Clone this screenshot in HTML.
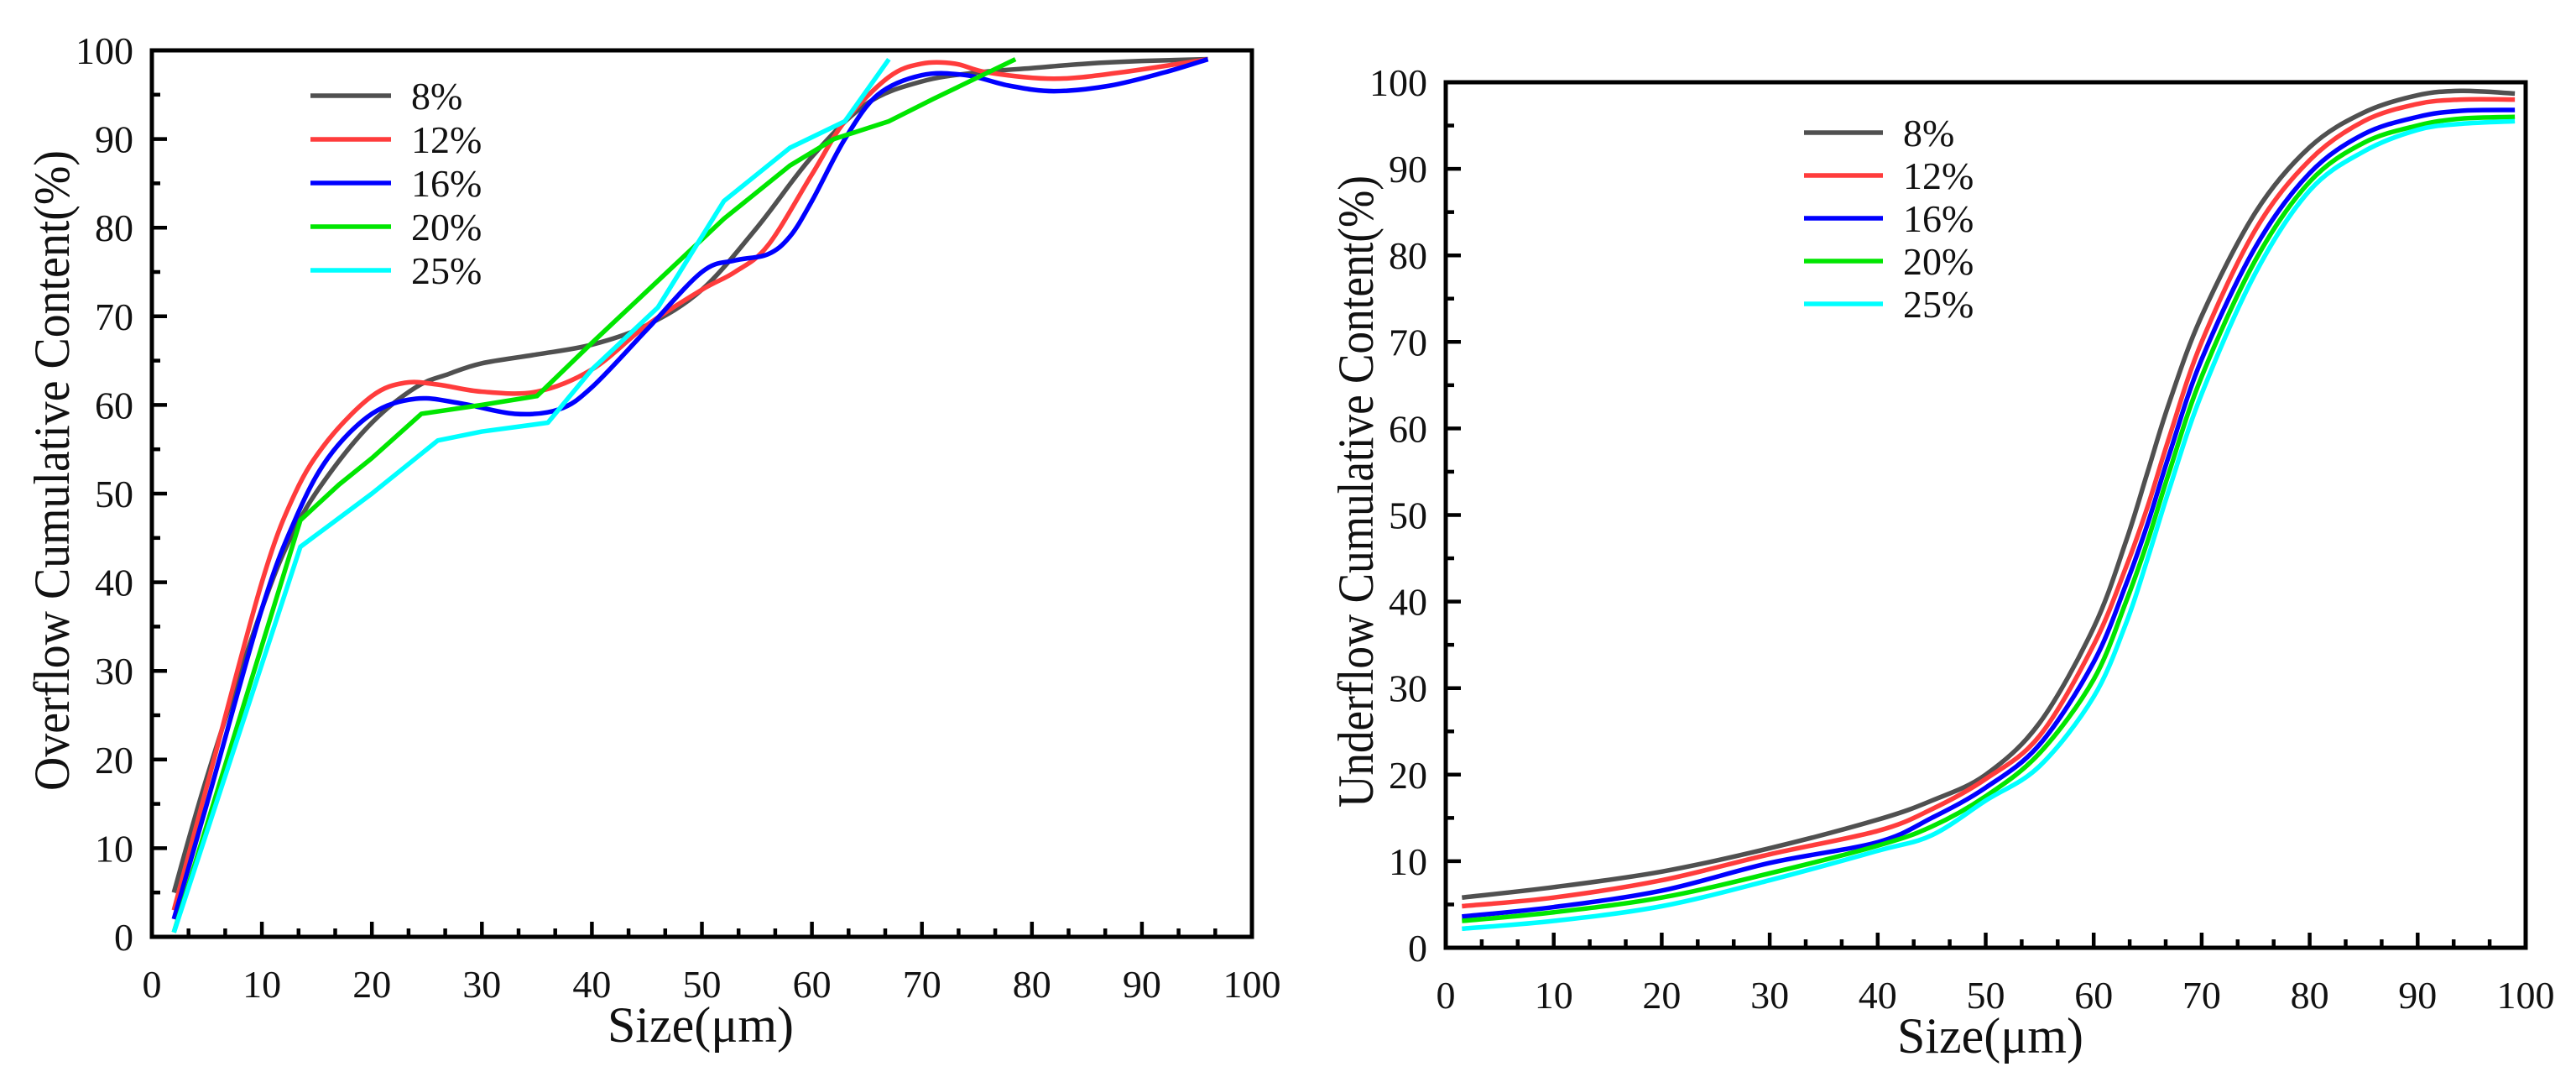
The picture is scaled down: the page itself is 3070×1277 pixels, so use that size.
<!DOCTYPE html>
<html><head><meta charset="utf-8"><style>
html,body{margin:0;padding:0;background:#fff;}
svg{display:block;font-family:"Liberation Serif",serif;}
</style></head><body>
<svg id="fig" width="3070" height="1277" viewBox="0 0 3070 1277" xmlns="http://www.w3.org/2000/svg">
<rect x="0" y="0" width="3070" height="1277" fill="#fff"/>
<g id="left"></g>
<g id="right"></g>
</svg>
<script>
// ---- data ----
const seriesNames = ["8%","12%","16%","20%","25%"];
const seriesColors = ["#505050","#ff3c3c","#0000ff","#00e600","#00ffff"];
const xTicks = [0,10,20,30,40,50,60,70,80,90,100];
const yTicks = [0,10,20,30,40,50,60,70,80,90,100];

const ovX8 = [2,5,10,13,16,20,24,27,30,35,40,45,50,55,60,65,70,75,80,85,90,96];
const ovY8 = [5,18,37,46,52,58,62,63.5,64.7,65.7,66.8,69,73,80,88,94,96.5,97.5,98,98.5,98.8,99];
const ovX12 = [2,5,10,13,16,20,23,26,30,35,40,45,50,53,56,60,63,67,70,73,76,82,88,96];
const ovY12 = [3,17,40,50,56,61,62.5,62.3,61.5,61.5,64,69,73,75,78,86,92,97,98.5,98.5,97.5,96.8,97.5,99];
const ovX16 = [2,5,10,13,16,20,24,28,33,37,40,45,50,53,56,58,60,63,66,70,74,78,82,87,92,96];
const ovY16 = [2,15,37,47,54,59,60.7,60.2,59,59.5,62,68.5,75,76.3,77,79,83,90,95,97.2,97.2,96,95.4,96,97.5,99];
const ovX20 = [2,13.5,17,20,24.5,30,35,40,46,52,58,62,67,71,78.5];
const ovY20 = [0.5,47,51,54,59,60,61,67,74,81,87,90,92,94.5,99];
const ovX25 = [2,13.5,20,26,30,36,40,46,52,58,63,67];
const ovY25 = [0.5,44,50,56,57,58,64,71,83,89,92,99];

const unX = [1.5,10,20,30,40,45,50,55,60,63,65,67,70,75,80,85,90,94,99];
const unY8 = [5.8,7,8.8,11.5,14.8,17,20,26,37,47,55,63,73,85,92.5,96.5,98.5,99,98.7];
const unY12 = [4.8,5.8,7.8,10.8,13.5,16,19.5,24.5,35,44,51,59,70,83,91,95.5,97.5,98,98];
const unY16 = [3.6,4.7,6.6,9.8,12.2,15,18.5,23.5,33,42,49,57,68,81,89.5,94,96,96.7,96.8];
const unY20 = [3.1,4.1,5.8,8.6,11.8,14,17.5,22.5,31,40,47,55,66,79.5,88.5,93,95,95.8,96];
const unY25 = [2.2,3.1,4.8,7.8,11.2,13,17,21,29,37.5,45,53,64,78,87.5,92,94.5,95.2,95.5];

const NS="http://www.w3.org/2000/svg";
function mk(tag,attrs,parent){const e=document.createElementNS(NS,tag);for(const k in attrs)e.setAttribute(k,attrs[k]);parent.appendChild(e);return e;}

function smoothPath(pts){
  if(pts.length<3) return "M"+pts.map(p=>p.join(",")).join("L");
  let d="M"+pts[0][0]+","+pts[0][1];
  for(let i=0;i<pts.length-1;i++){
    const p0=pts[Math.max(0,i-1)],p1=pts[i],p2=pts[i+1],p3=pts[Math.min(pts.length-1,i+2)];
    const c1=[p1[0]+(p2[0]-p0[0])/6,p1[1]+(p2[1]-p0[1])/6];
    const c2=[p2[0]-(p3[0]-p1[0])/6,p2[1]-(p3[1]-p1[1])/6];
    d+="C"+c1.join(",")+" "+c2.join(",")+" "+p2.join(",");
  }
  return d;
}

function chart(g,cfg){
  const xs=v=>cfg.x0+(v/100)*(cfg.x1-cfg.x0);
  const ys=v=>cfg.y0-(v/100)*(cfg.y0-cfg.y1);
  cfg.series.forEach((s,i)=>{
    const pts=s.x.map((xv,j)=>[xs(xv),ys(s.y[j])]);
    const p=mk("path",{d:s.smooth?smoothPath(pts):"M"+pts.map(q=>q.join(",")).join("L"),fill:"none",stroke:seriesColors[i],"stroke-width":5.5,"stroke-linejoin":"round"},g);
    
    
  });
  const fr=mk("rect",{x:cfg.x0,y:cfg.y1,width:cfg.x1-cfg.x0,height:cfg.y0-cfg.y1,fill:"none",stroke:"#000","stroke-width":5},g);
  
  
  xTicks.forEach((t,i)=>{
    const X=xs(t);
    const tk=mk("line",{x1:X,x2:X,y1:cfg.y0,y2:cfg.y0-18,stroke:"#000","stroke-width":4.5},g);
    
    
    if(i<xTicks.length-1){
      for(const f of [1/3,2/3]){
        const Xm=xs(t+10*f);
        const m=mk("line",{x1:Xm,x2:Xm,y1:cfg.y0,y2:cfg.y0-10,stroke:"#000","stroke-width":4.5},g);
        
        
      }
    }
    const lb=mk("text",{x:X,y:cfg.y0+72,"text-anchor":"middle","font-size":46,fill:"#111"},g);
    lb.textContent=t;
    
    
  });
  yTicks.forEach((t,i)=>{
    const Y=ys(t);
    const tk=mk("line",{x1:cfg.x0,x2:cfg.x0+18,y1:Y,y2:Y,stroke:"#000","stroke-width":4.5},g);
    
    
    if(i<yTicks.length-1){
      const Ym=ys(t+5);
      const m=mk("line",{x1:cfg.x0,x2:cfg.x0+10,y1:Ym,y2:Ym,stroke:"#000","stroke-width":4.5},g);
      
      
    }
    const lb=mk("text",{x:cfg.x0-22,y:Y+16,"text-anchor":"end","font-size":46,fill:"#111"},g);
    lb.textContent=t;
    
    
  });
  const xt=mk("text",{x:cfg.xtX,y:cfg.y0+125,"text-anchor":"middle","font-size":60,fill:"#111"},g);
  xt.textContent="Size(μm)";
  
  
  const cy=(cfg.ytTop+cfg.ytBot)/2;
  const yt=mk("text",{x:cfg.ytX,y:cy,"text-anchor":"middle","font-size":60,fill:"#111",transform:"rotate(-90 "+cfg.ytX+" "+cy+")",textLength:cfg.ytBot-cfg.ytTop,lengthAdjust:"spacingAndGlyphs","xml:space":"preserve"},g);
  yt.textContent=cfg.ytitle;
  
  
  seriesNames.forEach((n,i)=>{
    const Y=cfg.legY+i*cfg.legDy;
    const ln=mk("line",{x1:cfg.legX,x2:cfg.legX+cfg.legW,y1:Y,y2:Y,stroke:seriesColors[i],"stroke-width":5.5},g);
    
    
    const tx=mk("text",{x:cfg.legX+cfg.legW+24,y:Y+16,"font-size":46,fill:"#111"},g);
    tx.textContent=n;
    
    
  });
}

chart(document.getElementById("left"),{
  x0:181,x1:1492,y0:1116,y1:60,xtX:835,ytX:82,ytTop:179,ytBot:942,
  ytitle:"Overflow  Cumulative Content(%)",legX:370,legW:96,legY:114,legDy:52,
  series:[
    {x:ovX8,y:ovY8,smooth:true},{x:ovX12,y:ovY12,smooth:true},{x:ovX16,y:ovY16,smooth:true},
    {x:ovX20,y:ovY20,smooth:false},{x:ovX25,y:ovY25,smooth:false}]
});
chart(document.getElementById("right"),{
  x0:1723,x1:3010,y0:1129,y1:98,xtX:2372,ytX:1636,ytTop:209,ytBot:962,
  ytitle:"Underflow Cumulative Content(%)",legX:2150,legW:94,legY:158,legDy:51,
  series:[
    {x:unX,y:unY8,smooth:true},{x:unX,y:unY12,smooth:true},{x:unX,y:unY16,smooth:true},
    {x:unX,y:unY20,smooth:true},{x:unX,y:unY25,smooth:true}]
});
</script>
</body></html>
